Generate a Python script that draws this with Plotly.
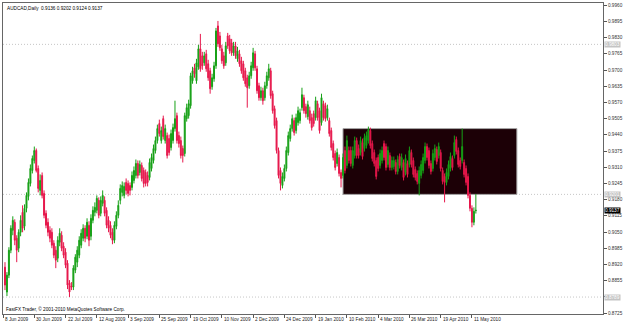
import plotly.graph_objects as go

# ---- data (prices in pips: value / 10000) ----
opens = [
    8909, 8809, 8877, 8977, 9057, 9089, 9025, 8985, 9049, 9129,
    9073, 9145, 9193, 9245, 9297, 9337, 9377, 9305, 9217, 9277,
    9205, 9125, 9089, 9057, 9049, 9005, 8977, 8945, 9009, 9037,
    8993, 8969, 8925, 8845, 8833, 8829, 8897, 8929, 8957, 8997,
    9025, 9065, 9033, 9077, 9033, 9097, 9129, 9137, 9177, 9125,
    9165, 9177, 9137, 9097, 9077, 9049, 9017, 9073, 9117, 9177,
    9209, 9197, 9249, 9245, 9237, 9229, 9257, 9277, 9325, 9289,
    9317, 9297, 9289, 9277, 9269, 9305, 9337, 9377, 9417, 9485,
    9417, 9505, 9417, 9437, 9425, 9389, 9417, 9465, 9517, 9437,
    9417, 9385, 9365, 9505, 9517, 9557, 9657, 9709, 9657, 9713,
    9785, 9757, 9729, 9765, 9725, 9697, 9633, 9665, 9717, 9877,
    9837, 9785, 9757, 9729, 9837, 9825, 9809, 9769, 9797, 9745,
    9765, 9737, 9725, 9697, 9669, 9637, 9677, 9709, 9765, 9705,
    9637, 9589, 9617, 9589, 9637, 9669, 9697, 9605, 9545, 9497,
    9377, 9297, 9237, 9265, 9305, 9369, 9425, 9465, 9497, 9457,
    9489, 9497, 9549, 9589, 9553, 9513, 9537, 9509, 9525, 9509,
    9565, 9537, 9489, 9565, 9557, 9509, 9497, 9457, 9405, 9365,
    9325, 9349, 9289, 9277, 9377, 9317, 9377, 9377, 9317, 9357,
    9417, 9385, 9369, 9409, 9385, 9397, 9417, 9457, 9405, 9369,
    9337, 9349, 9317, 9337, 9405, 9393, 9321, 9357, 9309, 9313,
    9329, 9293, 9353, 9309, 9329, 9289, 9325, 9321, 9369, 9337,
    9301, 9285, 9245, 9277, 9297, 9337, 9393, 9377, 9325, 9305,
    9349, 9381, 9357, 9369, 9297, 9273, 9249, 9273, 9305, 9345,
    9357, 9421, 9377, 9337, 9337, 9329, 9305, 9273, 9197, 9145,
    9089, 9136,
]
highs = [
    8929, 8889, 8989, 9077, 9113, 9101, 9037, 9061, 9117, 9157,
    9161, 9209, 9265, 9321, 9357, 9393, 9385, 9317, 9281, 9289,
    9217, 9137, 9105, 9073, 9065, 9017, 8993, 9033, 9065, 9053,
    9009, 8985, 8937, 8857, 8849, 8917, 8961, 8993, 9033, 9061,
    9081, 9077, 9105, 9093, 9121, 9153, 9169, 9197, 9189, 9193,
    9217, 9193, 9149, 9113, 9093, 9065, 9093, 9133, 9177, 9241,
    9253, 9249, 9265, 9257, 9249, 9293, 9313, 9341, 9337, 9337,
    9329, 9309, 9301, 9293, 9345, 9365, 9401, 9433, 9481, 9501,
    9473, 9517, 9481, 9449, 9441, 9461, 9485, 9577, 9529, 9453,
    9433, 9397, 9529, 9565, 9581, 9689, 9713, 9725, 9745, 9801,
    9845, 9773, 9773, 9781, 9741, 9709, 9685, 9733, 9869, 9897,
    9853, 9801, 9773, 9813, 9849, 9841, 9825, 9813, 9813, 9793,
    9781, 9753, 9737, 9709, 9681, 9693, 9733, 9789, 9777, 9717,
    9649, 9633, 9629, 9653, 9693, 9725, 9709, 9617, 9557, 9509,
    9389, 9309, 9289, 9321, 9393, 9453, 9481, 9521, 9509, 9525,
    9553, 9545, 9629, 9601, 9565, 9577, 9553, 9525, 9537, 9593,
    9577, 9549, 9605, 9577, 9569, 9561, 9509, 9469, 9417, 9377,
    9385, 9361, 9301, 9365, 9393, 9437, 9393, 9393, 9393, 9433,
    9429, 9401, 9433, 9425, 9445, 9453, 9473, 9469, 9417, 9381,
    9349, 9361, 9381, 9393, 9417, 9405, 9393, 9369, 9353, 9353,
    9341, 9357, 9365, 9365, 9341, 9361, 9337, 9393, 9381, 9349,
    9313, 9297, 9313, 9337, 9365, 9409, 9405, 9389, 9337, 9381,
    9401, 9393, 9409, 9381, 9309, 9285, 9305, 9337, 9369, 9357,
    9437, 9433, 9389, 9349, 9465, 9341, 9317, 9285, 9209, 9157,
    9149, 9202,
]
lows = [
    8817, 8793, 8865, 8965, 9037, 8997, 8929, 8969, 9033, 9049,
    9057, 9129, 9177, 9233, 9285, 9325, 9289, 9209, 9197, 9185,
    9105, 9065, 9033, 9009, 8985, 8945, 8905, 8929, 8993, 8973,
    8945, 8905, 8821, 8789, 8817, 8817, 8885, 8909, 8945, 8985,
    9013, 9009, 9021, 8993, 9017, 9085, 9113, 9125, 9105, 9113,
    9153, 9113, 9065, 9049, 9025, 9001, 9005, 9061, 9105, 9161,
    9193, 9185, 9201, 9193, 9197, 9217, 9245, 9265, 9265, 9277,
    9253, 9229, 9233, 9233, 9257, 9293, 9325, 9365, 9405, 9433,
    9405, 9421, 9405, 9345, 9357, 9377, 9405, 9453, 9405, 9389,
    9345, 9329, 9353, 9493, 9505, 9545, 9645, 9669, 9645, 9701,
    9693, 9701, 9717, 9693, 9657, 9605, 9621, 9653, 9705, 9793,
    9777, 9725, 9705, 9717, 9785, 9765, 9757, 9757, 9745, 9733,
    9713, 9685, 9657, 9633, 9549, 9625, 9665, 9697, 9697, 9605,
    9577, 9577, 9561, 9577, 9625, 9657, 9585, 9525, 9465, 9365,
    9265, 9217, 9225, 9253, 9293, 9357, 9413, 9453, 9437, 9445,
    9477, 9485, 9537, 9525, 9509, 9501, 9485, 9457, 9473, 9497,
    9497, 9445, 9477, 9497, 9493, 9497, 9433, 9377, 9337, 9297,
    9313, 9273, 9229, 9265, 9285, 9305, 9325, 9313, 9305, 9345,
    9345, 9345, 9357, 9341, 9373, 9385, 9405, 9385, 9333, 9313,
    9261, 9293, 9305, 9325, 9337, 9297, 9309, 9297, 9297, 9301,
    9281, 9281, 9305, 9297, 9257, 9277, 9269, 9309, 9309, 9269,
    9257, 9241, 9197, 9265, 9285, 9325, 9337, 9305, 9281, 9293,
    9337, 9321, 9345, 9293, 9241, 9169, 9237, 9261, 9293, 9297,
    9345, 9361, 9309, 9301, 9325, 9269, 9237, 9185, 9133, 9069,
    9077, 9124,
]
closes = [
    8837, 8877, 8977, 9065, 9097, 9017, 8977, 9049, 9097, 9065,
    9145, 9197, 9249, 9305, 9345, 9377, 9297, 9225, 9257, 9197,
    9117, 9077, 9049, 9025, 8997, 8957, 8937, 9017, 9045, 8985,
    8957, 8917, 8837, 8809, 8829, 8905, 8949, 8977, 9017, 9045,
    9065, 9025, 9089, 9017, 9105, 9137, 9149, 9185, 9117, 9177,
    9197, 9125, 9077, 9065, 9037, 9017, 9077, 9117, 9157, 9225,
    9237, 9233, 9217, 9205, 9217, 9277, 9297, 9325, 9277, 9321,
    9265, 9245, 9245, 9249, 9329, 9349, 9385, 9417, 9465, 9445,
    9457, 9433, 9465, 9357, 9369, 9445, 9469, 9505, 9417, 9405,
    9357, 9357, 9517, 9549, 9565, 9677, 9697, 9685, 9729, 9785,
    9705, 9717, 9757, 9705, 9669, 9625, 9669, 9717, 9857, 9805,
    9789, 9737, 9717, 9797, 9797, 9777, 9769, 9797, 9757, 9777,
    9725, 9697, 9669, 9645, 9629, 9677, 9717, 9769, 9709, 9617,
    9589, 9617, 9577, 9637, 9677, 9705, 9597, 9537, 9477, 9377,
    9277, 9245, 9273, 9305, 9377, 9437, 9465, 9505, 9449, 9509,
    9537, 9529, 9601, 9537, 9525, 9561, 9497, 9469, 9485, 9577,
    9509, 9457, 9589, 9509, 9505, 9545, 9445, 9389, 9349, 9309,
    9369, 9285, 9265, 9349, 9297, 9417, 9337, 9325, 9377, 9417,
    9357, 9357, 9417, 9353, 9429, 9437, 9461, 9397, 9345, 9325,
    9273, 9305, 9365, 9377, 9349, 9309, 9377, 9309, 9337, 9337,
    9293, 9341, 9317, 9349, 9269, 9345, 9281, 9377, 9321, 9281,
    9269, 9253, 9297, 9321, 9349, 9393, 9349, 9317, 9293, 9365,
    9385, 9333, 9393, 9305, 9253, 9249, 9289, 9321, 9353, 9309,
    9409, 9373, 9321, 9313, 9393, 9281, 9249, 9197, 9145, 9089,
    9133, 9137,
]

date_labels = ["8 Jun 2009", "30 Jun 2009", "22 Jul 2009", "12 Aug 2009",
               "3 Sep 2009", "25 Sep 2009", "19 Oct 2009", "10 Nov 2009",
               "2 Dec 2009", "24 Dec 2009", "19 Jan 2010", "10 Feb 2010",
               "4 Mar 2010", "26 Mar 2010", "19 Apr 2010", "11 May 2010"]
date_first_bar = -1
date_step_bars = 16

price_ticks = [0.8725, 0.8790, 0.8855, 0.8920, 0.8985, 0.9050, 0.9115,
               0.9180, 0.9245, 0.9310, 0.9375, 0.9440, 0.9505, 0.9570,
               0.9635, 0.9700, 0.9765, 0.9830, 0.9895, 0.9960]

hline_levels = [0.9803, 0.9201, 0.8789]
zone_bars = [173, 262]
zone_prices = [0.9201, 0.9465]
symbol_title = "AUDCAD,Daily"
copyright_text = "FastFX Trader, © 2001-2010 MetaQuotes Software Corp."

SCALE = 10000.0
o = [v / SCALE for v in opens]
h = [v / SCALE for v in highs]
l = [v / SCALE for v in lows]
c = [v / SCALE for v in closes]
xs = list(range(len(c)))

GREEN = "#16a016"
RED = "#e6174b"
FONT = "Liberation Sans"
FS = 4.7

fig = go.Figure()
fig.add_trace(go.Candlestick(
    x=xs, open=o, high=h, low=l, close=c,
    increasing=dict(line=dict(color=GREEN, width=1), fillcolor=GREEN),
    decreasing=dict(line=dict(color=RED, width=1), fillcolor=RED),
    whiskerwidth=0, hoverinfo="skip", showlegend=False,
))

# zone rectangle
fig.add_shape(type="rect", xref="x", yref="y",
              x0=zone_bars[0], x1=zone_bars[1], y0=zone_prices[0], y1=zone_prices[1],
              fillcolor="#1c0006", line=dict(color="#a8a8a8", width=1), layer="below")
# horizontal dotted lines
for lv in hline_levels:
    fig.add_shape(type="line", xref="paper", yref="y", x0=0, x1=1, y0=lv, y1=lv,
                  line=dict(color="#c6c6c6", width=1, dash="1px,2px"), layer="below")

annotations = []
# title
annotations.append(dict(
    xref="paper", yref="paper", x=0, y=1, xanchor="left", yanchor="top",
    xshift=2, yshift=-1, showarrow=False,
    text=f"{symbol_title}  {o[-1]:.4f} {h[-1]:.4f} {l[-1]:.4f} {c[-1]:.4f}",
    font=dict(family=FONT, size=FS, color="#000000")))
# copyright
annotations.append(dict(
    xref="paper", yref="paper", x=0, y=0, xanchor="left", yanchor="bottom",
    xshift=1, yshift=0, showarrow=False, text=copyright_text,
    font=dict(family=FONT, size=FS, color="#000000")))
# date labels
date_ticks = [date_first_bar + date_step_bars * k for k in range(len(date_labels))]
for t, lab in zip(date_ticks, date_labels):
    annotations.append(dict(
        xref="x", yref="paper", x=t, y=0, xanchor="left", yanchor="top",
        xshift=0, yshift=-1, showarrow=False, text=lab,
        font=dict(family=FONT, size=FS, color="#222222")))
# level labels on price axis
for lv in hline_levels:
    annotations.append(dict(
        xref="paper", yref="y", x=1, y=lv, xanchor="left", yanchor="middle",
        xshift=1, showarrow=False, text=f"{lv:.4f}", bgcolor="#c4c4c4",
        borderpad=0, font=dict(family=FONT, size=FS, color="#ffffff")))
# current price label
annotations.append(dict(
    xref="paper", yref="y", x=1, y=c[-1], xanchor="left", yanchor="middle",
    xshift=1, showarrow=False, text=f"{c[-1]:.4f}", bgcolor="#000000",
    borderpad=0, font=dict(family=FONT, size=FS, color="#ffffff")))

# tick labels hidden where a level box sits on top of them
tick_text = []
for v in price_ticks:
    covered = any(abs(v - lv) < 0.0008 for lv in hline_levels)
    tick_text.append("" if covered else f"{v:.4f}")

fig.update_layout(
    width=625, height=324,
    margin=dict(l=2, r=18, t=2, b=10),
    paper_bgcolor="white", plot_bgcolor="white",
    showlegend=False,
    annotations=annotations,
    xaxis=dict(range=[-1.02, 306.08], rangeslider=dict(visible=False),
               tickvals=date_ticks, showticklabels=False, ticks="outside",
               ticklen=3, tickcolor="#555555", showgrid=False, zeroline=False,
               showline=True, linecolor="#666666", linewidth=1, mirror=True,
               fixedrange=True),
    yaxis=dict(side="right", range=[0.8721, 0.9969], tickvals=price_ticks,
               ticktext=tick_text, ticks="outside",
               ticklen=3, tickcolor="#555555",
               tickfont=dict(family=FONT, size=FS, color="#333333"),
               showgrid=False, zeroline=False, showline=True,
               linecolor="#666666", linewidth=1, mirror=True, fixedrange=True),
)

fig.write_html("out.html")
